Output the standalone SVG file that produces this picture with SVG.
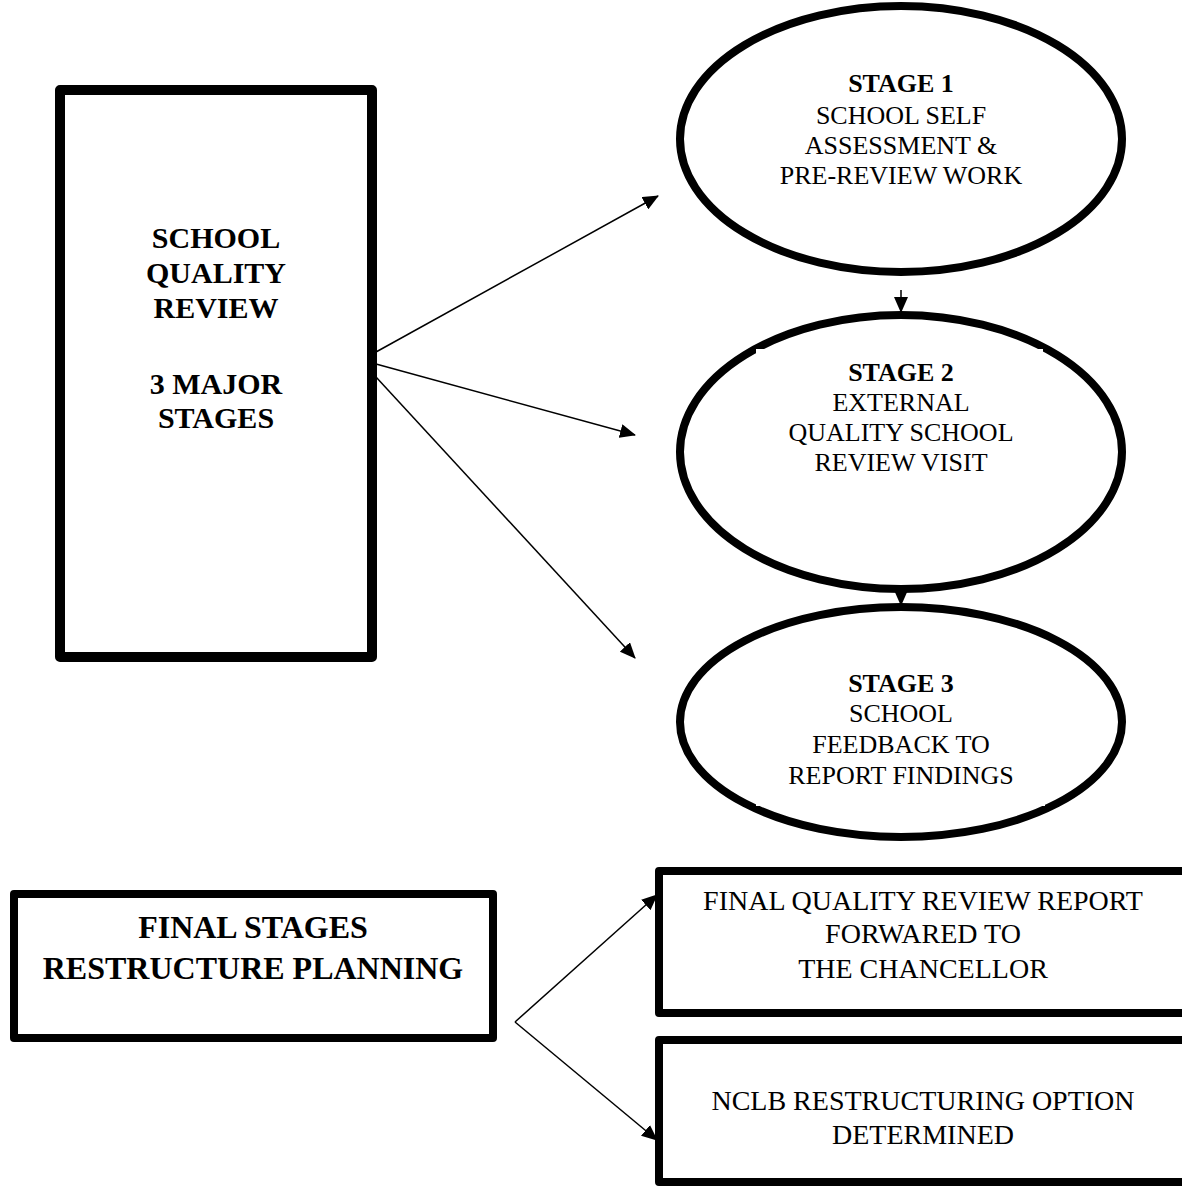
<svg xmlns="http://www.w3.org/2000/svg" width="1182" height="1188" viewBox="0 0 1182 1188">
<style>
.box{fill:#fff;stroke:#000;stroke-linejoin:round}
.ell{fill:#fff;stroke:#000;stroke-width:8}
.t{font-family:"Liberation Serif","Times New Roman",serif;fill:#000;text-anchor:middle}
.b{font-weight:bold}
.s26{font-size:26px}
.s28{font-size:28px}
.s30{font-size:30px}
.s32{font-size:32px}
.con{stroke:#000;stroke-width:1.5;fill:none;marker-end:url(#ah)}
</style>
<defs>
<marker id="ah" markerUnits="userSpaceOnUse" markerWidth="16" markerHeight="14" refX="15" refY="7" orient="auto">
<path d="M0,0 L16,7 L0,14 Z" fill="#000"/>
</marker>
</defs>
<rect width="1182" height="1188" fill="#fff"/>

<g id="main-box">
<rect class="box" x="60" y="90" width="312" height="567" stroke-width="10"/>
<text class="t b s30" x="216" y="248">SCHOOL</text>
<text class="t b s30" x="216" y="283">QUALITY</text>
<text class="t b s30" x="216" y="318">REVIEW</text>
<text class="t b s30" x="216" y="394">3 MAJOR</text>
<text class="t b s30" x="216" y="428">STAGES</text>
</g>

<g id="stage1">
<ellipse class="ell" cx="901" cy="139" rx="221" ry="133"/>
<text class="t b s26" x="901" y="92">STAGE 1</text>
<text class="t s26" x="901" y="124">SCHOOL SELF</text>
<text class="t s26" x="901" y="154">ASSESSMENT &amp;</text>
<text class="t s26" x="901" y="184">PRE-REVIEW WORK</text>
</g>

<g id="stage2">
<ellipse class="ell" cx="901" cy="452" rx="221" ry="137"/>
<rect x="756" y="349" width="287" height="150" fill="#fff"/>
<text class="t b s26" x="901" y="381">STAGE 2</text>
<text class="t s26" x="901" y="411">EXTERNAL</text>
<text class="t s26" x="901" y="441">QUALITY SCHOOL</text>
<text class="t s26" x="901" y="471">REVIEW VISIT</text>
</g>

<g id="stage3">
<ellipse class="ell" cx="901" cy="722" rx="221" ry="115"/>
<rect x="756" y="660" width="289" height="146" fill="#fff"/>
<text class="t b s26" x="901" y="692">STAGE 3</text>
<text class="t s26" x="901" y="722">SCHOOL</text>
<text class="t s26" x="901" y="753">FEEDBACK TO</text>
<text class="t s26" x="901" y="784">REPORT FINDINGS</text>
</g>

<g id="final-box">
<rect class="box" x="14" y="894" width="479" height="144" stroke-width="8"/>
<text class="t b s32" x="253" y="938">FINAL STAGES</text>
<text class="t b s32" x="253" y="979">RESTRUCTURE PLANNING</text>
</g>

<g id="report-box">
<rect class="box" x="659" y="871" width="540" height="142" stroke-width="8"/>
<text class="t s28" x="923" y="910">FINAL QUALITY REVIEW REPORT</text>
<text class="t s28" x="923" y="943">FORWARED TO</text>
<text class="t s28" x="923" y="978">THE CHANCELLOR</text>
</g>

<g id="nclb-box">
<rect class="box" x="659" y="1040" width="540" height="142" stroke-width="8"/>
<text class="t s28" x="923" y="1110">NCLB RESTRUCTURING OPTION</text>
<text class="t s28" x="923" y="1144">DETERMINED</text>
</g>

<g id="connectors">
<line class="con" x1="376" y1="352" x2="658" y2="196"/>
<line class="con" x1="376" y1="364" x2="635" y2="435"/>
<line class="con" x1="376" y1="377" x2="635" y2="658"/>
<line class="con" x1="901" y1="290" x2="901" y2="312"/>
<line class="con" x1="901" y1="590" x2="901" y2="605"/>
<line class="con" x1="515" y1="1022" x2="657" y2="895"/>
<line class="con" x1="515" y1="1022" x2="657" y2="1140"/>
</g>
</svg>
